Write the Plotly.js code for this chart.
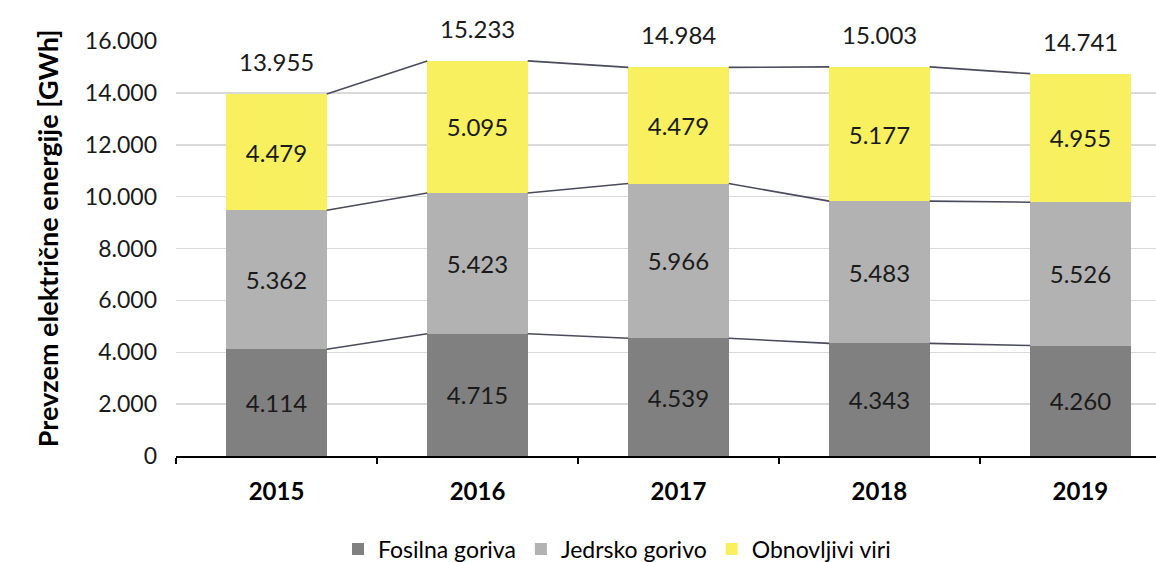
<!DOCTYPE html>
<html>
<head>
<meta charset="utf-8">
<script src="https://cdn.plot.ly/plotly-3.0.1.min.js"></script>
<style>html,body{margin:0;padding:0;background:#fff;}#chart{width:1156px;height:562px;}</style>
</head>
<body>
<div id="chart"></div>
<script>
const years = ['2015', '2016', '2017', '2018', '2019'];
const fosilna = [4114, 4715, 4539, 4343, 4260];
const jedrsko = [5362, 5423, 5966, 5483, 5526];
const obnovljivi = [4479, 5095, 4479, 5177, 4955];
const totals = [13955, 15233, 14984, 15003, 14741];
const seriesNames = ['Fosilna goriva', 'Jedrsko gorivo', 'Obnovljivi viri'];
const yTicks = [0, 2000, 4000, 6000, 8000, 10000, 12000, 14000, 16000];

const FONT = 'Lato, "Noto Sans", sans-serif';
const colors = ['#808080', '#b2b2b2', '#f8f05e'];
const xs = years.map((_, i) => i);
const barW = 0.5;
const series = [fosilna, jedrsko, obnovljivi];

const fmt = v => v.toLocaleString('de-DE');

const traces = [];
series.forEach((vals, s) => {
  traces.push({
    type: 'bar', x: xs, y: vals, name: seriesNames[s], width: barW,
    marker: {color: colors[s], line: {width: 0}},
    text: vals.map(fmt), textposition: 'inside', insidetextanchor: 'middle',
    textfont: {family: FONT, size: 24, color: '#1a1a1a'},
    hoverinfo: 'none', textangle: 0
  });
});

// connector lines between cumulative tops
const cum = [];
let run = xs.map(() => 0);
series.forEach(vals => { run = run.map((r, i) => r + vals[i]); cum.push(run.slice()); });
cum.forEach(tops => {
  const lx = [], ly = [];
  for (let i = 0; i < xs.length - 1; i++) {
    lx.push(xs[i] + barW / 2, xs[i + 1] - barW / 2, null);
    ly.push(tops[i], tops[i + 1], null);
  }
  traces.push({type: 'scatter', mode: 'lines', x: lx, y: ly, showlegend: false,
    line: {color: '#4a4b5c', width: 1.6}, hoverinfo: 'none', connectgaps: false});
});

const annotations = totals.map((t, i) => ({
  x: xs[i], y: t, xref: 'x', yref: 'y', text: fmt(t), showarrow: false,
  yanchor: 'bottom', yshift: 16, font: {family: FONT, size: 24, color: '#1a1a1a'}
}));
annotations.push({
  xref: 'paper', yref: 'paper', x: -0.1316, y: 0.525, textangle: -90,
  xanchor: 'center', yanchor: 'middle',
  text: '<b>Prevzem električne energije [GWh]</b>', showarrow: false,
  font: {family: FONT, size: 27, color: '#000'}
});

const layout = {
  width: 1156, height: 562,
  margin: {l: 176, r: 0, t: 41, b: 106, autoexpand: false},
  paper_bgcolor: '#fff', plot_bgcolor: '#fff',
  barmode: 'stack', separators: ',.',
  font: {family: FONT, color: '#1a1a1a'},
  showlegend: true,
  legend: {orientation: 'h', x: 0.45, xanchor: 'center', y: -0.224, yanchor: 'middle',
    font: {family: FONT, size: 23, color: '#000'}, itemwidth: 30, traceorder: 'normal'},
  xaxis: {
    range: [-0.5, 4.376], tickvals: xs, ticktext: years.map(y => '<b>' + y + '</b>'),
    tickfont: {family: FONT, size: 24, color: '#000'}, ticks: '', showgrid: false,
    zeroline: false, showline: true, linecolor: '#000', linewidth: 1.5,
    ticklabelstandoff: 14, automargin: false,
    minor: {tick0: 0.5, dtick: 1, ticks: 'outside', ticklen: 6, tickcolor: '#000', tickwidth: 1.5, showgrid: false}
  },
  yaxis: {
    range: [0, 16000], tickvals: yTicks, tickformat: ',d', automargin: false,
    tickfont: {family: FONT, size: 23, color: '#1a1a1a'},
    showgrid: true, gridcolor: '#d9d9d9', gridwidth: 1.5, zeroline: false,
    showline: false, ticks: '', ticklabelstandoff: 18
  },
  annotations: annotations
};

Plotly.newPlot('chart', traces, layout, {displayModeBar: false, staticPlot: true});
</script>
</body>
</html>
